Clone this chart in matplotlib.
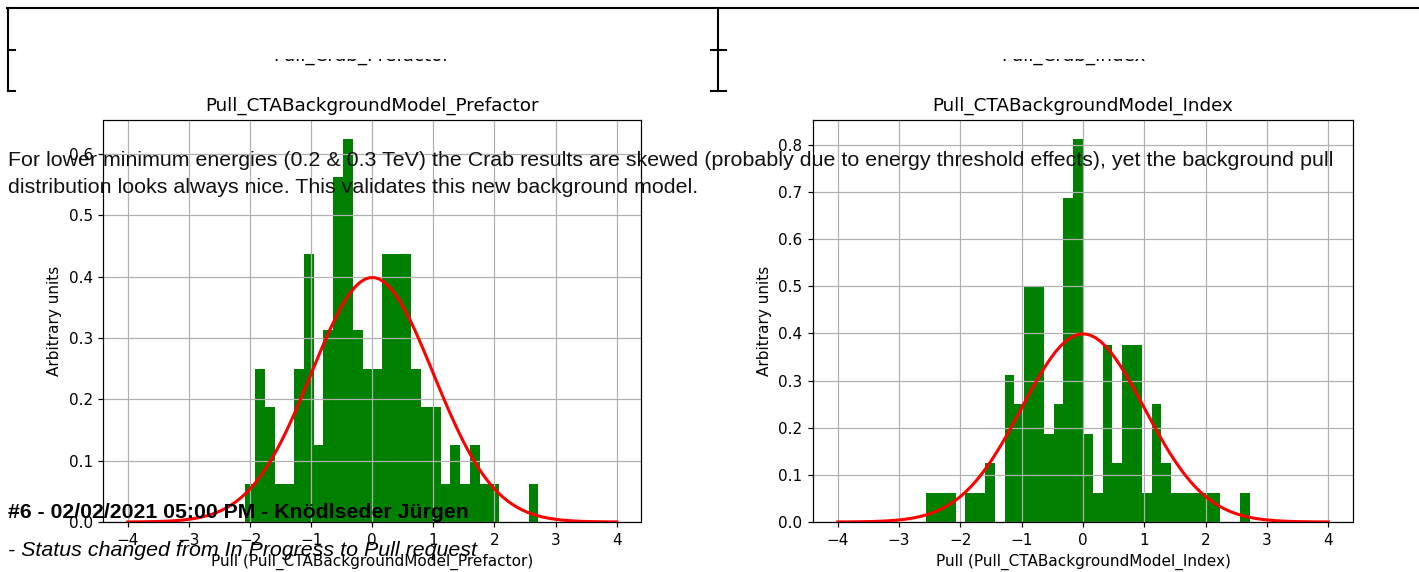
import numpy as np
import matplotlib
matplotlib.use("Agg")
import matplotlib.pyplot as plt
from matplotlib.patches import Rectangle

# ---------------- data ----------------
bin_edges_all = np.linspace(-4.0, 4.0, 51)          # 50 bins of width 0.16

# counts per bin (100 entries each), starting at first non-empty bin
prefactor_first_bin = 12                              # edge -2.08
prefactor_counts = [1, 4, 3, 1, 1, 4, 7, 2, 5, 9, 10, 5, 4, 4, 7, 7, 7, 4,
                    3, 3, 1, 2, 1, 2, 1, 1, 0, 0, 0, 1]
index_first_bin = 9                                   # edge -2.56
index_counts = [1, 1, 1, 0, 1, 1, 2, 0, 5, 4, 8, 8, 3, 4, 11, 13, 3, 1, 6,
                2, 6, 6, 1, 4, 2, 1, 1, 1, 1, 1, 0, 0, 1]

gauss_mean = 0.0
gauss_sigma = 1.0
curve_range = (-4.0, 4.0)

titles = ["Pull_CTABackgroundModel_Prefactor", "Pull_CTABackgroundModel_Index"]
xlabels = ["Pull (Pull_CTABackgroundModel_Prefactor)", "Pull (Pull_CTABackgroundModel_Index)"]
ylabel = "Arbitrary units"
top_titles = ["Pull_Crab_Prefactor", "Pull_Crab_Index"]

comment_lines = [
    "For lower minimum energies (0.2 & 0.3 TeV) the Crab results are skewed (probably due to energy threshold effects), yet the background pull",
    "distribution looks always nice. This validates this new background model.",
]
journal_header = "#6 - 02/02/2021 05:00 PM - Knödlseder Jürgen"
journal_detail = "- Status changed from In Progress to Pull request"

# ---------------- figure ----------------
W, H = 1419, 572
fig = plt.figure(figsize=(W / 100, H / 100), dpi=100)
S = 1.1  # the chart images are shown slightly enlarged on the page


def fx(x):
    return x / W


def fy(y):
    return 1 - y / H


def axes_px(x0, y0, x1, y1):
    return [fx(x0), fy(y1), (x1 - x0) / W, (y1 - y0) / H]


ax_positions = [axes_px(103.5, 119.7, 641.1, 522.0),
                axes_px(813.3, 119.7, 1352.7, 522.0)]

datasets = [(prefactor_first_bin, prefactor_counts), (index_first_bin, index_counts)]

xs = np.linspace(curve_range[0], curve_range[1], 100)
gauss = np.exp(-0.5 * ((xs - gauss_mean) / gauss_sigma) ** 2) / (gauss_sigma * np.sqrt(2 * np.pi))

for pos, (first, counts), title, xl in zip(ax_positions, datasets, titles, xlabels):
    ax = fig.add_axes(pos)
    edges = bin_edges_all[first:first + len(counts) + 1]
    centers = 0.5 * (edges[:-1] + edges[1:])
    ax.hist(centers, bins=edges, weights=counts, density=True, color="green")
    ax.plot(xs, gauss, color="red", lw=2 * S)
    ax.grid(True, lw=0.8 * S)
    ax.set_title(title, fontsize=12 * S, pad=6 * S)
    ax.set_xlabel(xl, fontsize=10 * S, labelpad=4 * S)
    ax.set_ylabel(ylabel, fontsize=10 * S, labelpad=4 * S)
    ax.tick_params(labelsize=10 * S, length=3.5 * S, width=0.8 * S, pad=3.5 * S)
    for sp in ax.spines.values():
        sp.set_linewidth(0.8 * S)
    ax.set_xticks([-4, -3, -2, -1, 0, 1, 2, 3, 4])

# ---------------- page fragments (web page around the images) ----------------
# titles of the images above, mostly scrolled out of view
for cx, t in zip([362, 1073], top_titles):
    fig.text(fx(cx), fy(60.5), t, ha="center", va="baseline", fontsize=12 * S,
             color="black", zorder=3)
fig.add_artist(Rectangle((fx(9.5), fy(58.5)), fx(707), 49 / H,
                         transform=fig.transFigure, facecolor="white",
                         edgecolor="none", zorder=4))
fig.add_artist(Rectangle((fx(719.5), fy(58.5)), fx(W - 719.5), 49 / H,
                         transform=fig.transFigure, facecolor="white",
                         edgecolor="none", zorder=4))

line_kw = dict(color="black", lw=1.5, transform=fig.transFigure, clip_on=False,
               zorder=5)
fig.add_artist(plt.Line2D([fx(7), fx(W)], [fy(8), fy(8)], **line_kw))
fig.add_artist(plt.Line2D([fx(8), fx(8)], [fy(8), fy(91)], **line_kw))
fig.add_artist(plt.Line2D([fx(8), fx(15)], [fy(50), fy(50)], **line_kw))
fig.add_artist(plt.Line2D([fx(8), fx(15)], [fy(91), fy(91)], **line_kw))
fig.add_artist(plt.Line2D([fx(718), fx(718)], [fy(8), fy(91)], **line_kw))
fig.add_artist(plt.Line2D([fx(711), fx(726)], [fy(50), fy(50)], **line_kw))
fig.add_artist(plt.Line2D([fx(711), fx(726)], [fy(91), fy(91)], **line_kw))

# ---------------- overlaid page text ----------------
fam = ["Liberation Sans", "DejaVu Sans"]
fig.text(fx(8), fy(166), comment_lines[0], fontsize=15.4, family=fam,
         color="#111111", ha="left", va="baseline", zorder=6)
fig.text(fx(8), fy(192.7), comment_lines[1], fontsize=15.4, family=fam,
         color="#111111", ha="left", va="baseline", zorder=6)
fig.text(fx(8), fy(518.5), journal_header, fontsize=15.3, family=fam,
         weight="bold", color="black", ha="left", va="baseline", zorder=6)
fig.text(fx(8), fy(556), journal_detail, fontsize=15.4, family=fam,
         style="italic", color="black", ha="left", va="baseline", zorder=6)

fig.savefig("out.png", dpi=100)
